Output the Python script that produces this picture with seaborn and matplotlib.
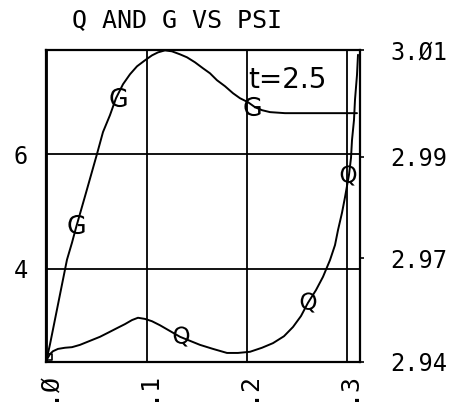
import matplotlib
matplotlib.use("Agg")
import matplotlib.pyplot as plt
from matplotlib.ticker import FixedLocator, FixedFormatter
import pandas as pd
import seaborn as sns

# G vs PSI (left axis)
psi_g = [0.0, 0.0033, 0.0063, 0.0103, 0.0153, 0.0203, 0.0253, 0.0293, 0.0393,
         0.0503, 0.0563, 0.0633, 0.0693, 0.0763, 0.0833, 0.0903, 0.0983,
         0.1053, 0.1113, 0.1183, 0.1253, 0.1333, 0.1403, 0.1483, 0.1563,
         0.1633, 0.1703, 0.1783, 0.1863, 0.1933, 0.2013, 0.2083, 0.2153,
         0.2233, 0.2383, 0.2533, 0.2833, 0.3103]
g_val = [2.427, 2.687, 2.947, 3.294, 3.728, 4.161, 4.456, 4.716, 5.324,
         6.000, 6.382, 6.677, 6.971, 7.214, 7.388, 7.526, 7.631,
         7.717, 7.769, 7.804, 7.787, 7.735, 7.683, 7.596, 7.492,
         7.405, 7.284, 7.180, 7.058, 6.971, 6.902, 6.815, 6.763,
         6.729, 6.711, 6.711, 6.711, 6.711]

# Q vs PSI (right axis)
psi_q = [0.0, 0.0033, 0.0063, 0.0113, 0.0183, 0.0253, 0.0333, 0.0433, 0.0533,
         0.0613, 0.0703, 0.0783, 0.0853, 0.0913, 0.0983, 0.1053, 0.1133,
         0.1233, 0.1333, 0.1433, 0.1533, 0.1663, 0.1803, 0.1913, 0.2033,
         0.2153, 0.2263, 0.2373, 0.2463, 0.2543, 0.2613, 0.2693, 0.2763,
         0.2833, 0.2883, 0.2913, 0.2953, 0.2983, 0.3023, 0.3043, 0.3053,
         0.3073, 0.3083, 0.3103, 0.3113]
q_val = [2.9543, 2.9553, 2.9558, 2.9562, 2.9564, 2.9565, 2.9569, 2.9576, 2.9583,
         2.9590, 2.9598, 2.9605, 2.9612, 2.9616, 2.9614, 2.9610, 2.9603,
         2.9593, 2.9583, 2.9576, 2.9569, 2.9562, 2.9555, 2.9555, 2.9557,
         2.9564, 2.9572, 2.9584, 2.9600, 2.9619, 2.9642, 2.9664, 2.9687,
         2.9716, 2.9742, 2.9768, 2.9798, 2.9825, 2.9864, 2.9893, 2.9924,
         2.9959, 2.9994, 3.0037, 3.0072]

# symbol positions along each curve
g_mark_psi = [0.0298, 0.0713, 0.2053]
g_mark_val = [4.79, 6.99, 6.83]
q_mark_psi = [0.1343, 0.2613, 0.3013]
q_mark_val = [2.9584, 2.9643, 2.9864]

x_ticks = [0.0, 0.1, 0.2, 0.3]
x_labels = [".\u00d8", ".1", ".2", ".3"]
left_ticks = [4, 6]
left_labels = ["4", "6"]
right_ticks = [2.9540, 2.9719, 2.9895, 3.0080]
right_labels = ["2.94", "2.97", "2.99", "3.\u00d81"]

sns.set_theme(style="white")
plt.rcParams["font.family"] = ["DejaVu Sans Mono", "DejaVu Sans"]
plt.rcParams["text.color"] = "black"

fig = plt.figure(figsize=(4.61, 4.05), dpi=100)
ax = fig.add_axes([0.0991, 0.1069, 0.6818, 0.7696])

g_df = pd.DataFrame({"psi": psi_g, "g": g_val})
q_df = pd.DataFrame({"psi": psi_q, "q": q_val})

sns.lineplot(data=g_df, x="psi", y="g", ax=ax, color="black", lw=1.4,
             estimator=None, sort=False)
sns.scatterplot(x=g_mark_psi, y=g_mark_val, ax=ax, marker=r"$\mathrm{G}$",
                s=190, color="black", linewidth=0)

ax.set_xlim(-0.001, 0.3133)
ax.set_ylim(2.385, 7.81)
ax.xaxis.set_major_locator(FixedLocator(x_ticks))
ax.xaxis.set_major_formatter(FixedFormatter(x_labels))
ax.yaxis.set_major_locator(FixedLocator(left_ticks))
ax.yaxis.set_major_formatter(FixedFormatter(left_labels))
ax.grid(True, color="black", lw=1.3)
ax.tick_params(axis="x", length=0, pad=7, labelsize=18, labelrotation=90,
               labelcolor="black")
ax.tick_params(axis="y", length=0, pad=13, labelsize=17, labelcolor="black")
ax.set_xlabel("")
ax.set_ylabel("")
for sp in ax.spines.values():
    sp.set_color("black")
    sp.set_linewidth(1.6)

ax2 = ax.twinx()
sns.lineplot(data=q_df, x="psi", y="q", ax=ax2, color="black", lw=1.4,
             estimator=None, sort=False)
sns.scatterplot(x=q_mark_psi, y=q_mark_val, ax=ax2, marker=r"$\mathrm{Q}$",
                s=210, color="black", linewidth=0)
sns.scatterplot(x=[0.0023], y=[2.9548], ax=ax2, marker="s", s=22,
                facecolor="none", edgecolor="black", linewidth=1.2)
ax2.set_ylim(2.95398, 3.00803)
ax2.yaxis.set_major_locator(FixedLocator(right_ticks))
ax2.yaxis.set_major_formatter(FixedFormatter(right_labels))
ax2.tick_params(axis="y", direction="out", length=3, width=1.2, color="black",
                pad=19, labelsize=17, labelcolor="black")
ax2.set_ylabel("")
ax2.grid(False)
for sp in ax2.spines.values():
    sp.set_visible(False)

fig.text(177 / 461, 1 - 20 / 405, "Q AND G VS PSI", ha="center", va="center",
         fontsize=18)
fig.text(248 / 461, 1 - 80 / 405, "t=2.5", ha="left", va="center",
         fontsize=20, family=["DejaVu Sans"])

fig.savefig("out.png", dpi=100)
